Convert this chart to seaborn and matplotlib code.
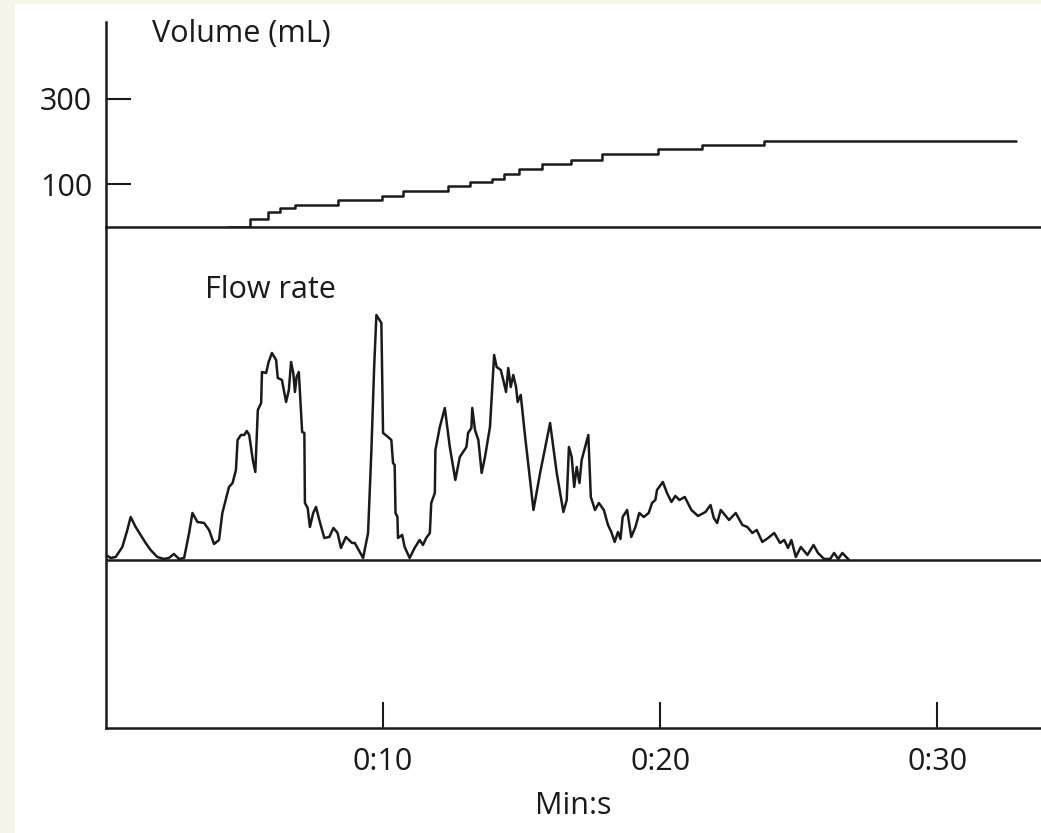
import matplotlib.pyplot as plt
import matplotlib.patches as patches
import seaborn as sns

# volume trace (seconds, mL) - cumulative, drawn as steps
vol_time = [4.4, 5.2, 5.85, 6.28, 6.82, 8.38, 9.96, 10.72, 12.35, 13.14, 13.94,
            14.37, 14.91, 15.74, 16.79, 17.91, 19.93, 21.52, 23.75, 32.85]
vol_ml = [0, 19, 35, 45, 52, 64, 73, 85, 96, 105, 113,
          125, 135, 148, 158, 172, 182, 191, 202, 202]

# flow trace (seconds, mL/s)
flow_time = [0.0, 0.17, 0.35, 0.59, 0.77, 0.89, 1.07, 1.25, 1.43, 1.61, 1.85, 2.09, 2.27, 2.45,
             2.64, 2.82, 3.00, 3.12, 3.30, 3.54, 3.72, 3.90, 4.08, 4.20, 4.32, 4.44, 4.57, 4.69,
             4.75, 4.87, 4.99, 5.08, 5.17, 5.30, 5.39, 5.48, 5.60, 5.63, 5.78, 5.87, 5.99, 6.14,
             6.20, 6.35, 6.50, 6.60, 6.68, 6.76, 6.82, 6.88, 6.96, 7.08, 7.16, 7.18, 7.28, 7.36,
             7.48, 7.58, 7.70, 7.88, 8.06, 8.21, 8.36, 8.48, 8.66, 8.88, 8.98, 9.28, 9.46, 9.58,
             9.68, 9.76, 9.94, 10.00, 10.18, 10.30, 10.36, 10.42, 10.45, 10.52, 10.54, 10.69, 10.78,
             10.96, 11.14, 11.32, 11.44, 11.56, 11.69, 11.74, 11.87, 11.89, 12.05, 12.23, 12.41,
             12.61, 12.77, 13.01, 13.07, 13.19, 13.22, 13.32, 13.44, 13.56, 13.68, 13.86, 14.01,
             14.10, 14.25, 14.34, 14.44, 14.52, 14.61, 14.70, 14.80, 14.86, 14.97, 15.13, 15.43,
             15.67, 16.03, 16.27, 16.51, 16.63, 16.71, 16.81, 16.90, 16.99, 17.09, 17.17, 17.41,
             17.50, 17.65, 17.79, 17.97, 18.12, 18.24, 18.36, 18.48, 18.57, 18.65, 18.81, 18.96,
             19.11, 19.25, 19.41, 19.59, 19.71, 19.83, 19.89, 20.10, 20.25, 20.41, 20.55, 20.70,
             20.89, 21.13, 21.37, 21.64, 21.82, 21.94, 22.06, 22.19, 22.49, 22.73, 22.97, 23.15,
             23.33, 23.49, 23.69, 23.90, 24.12, 24.33, 24.48, 24.62, 24.74, 24.90, 25.08, 25.32,
             25.54, 25.70, 25.92, 26.14, 26.28, 26.43, 26.58, 26.82]
flow_ml_s = [0.5, 0.2, 0.3, 1.3, 3.0, 4.3, 3.3, 2.5, 1.7, 1.0, 0.3, 0.1, 0.2, 0.6,
             0.1, 0.2, 2.7, 4.7, 3.8, 3.7, 3.0, 1.6, 2.0, 4.7, 6.0, 7.3, 7.7, 9.0,
             12.0, 12.5, 12.5, 12.9, 12.5, 10.0, 8.8, 15.0, 15.7, 18.8, 18.7, 19.8, 20.7, 20.0,
             18.2, 18.0, 15.8, 17.0, 19.8, 18.7, 16.8, 18.3, 18.8, 12.8, 12.7, 5.7, 5.2, 3.3,
             4.7, 5.3, 4.0, 2.2, 2.3, 3.2, 2.7, 1.2, 2.3, 1.7, 1.7, 0.2, 2.7, 11.0,
             19.3, 24.5, 23.7, 12.7, 12.3, 12.0, 9.7, 9.5, 4.7, 4.3, 2.2, 2.5, 1.3,
             0.2, 1.2, 2.0, 1.5, 2.2, 2.7, 5.7, 6.7, 11.0, 13.3, 15.2, 11.3,
             8.0, 10.3, 11.3, 12.7, 13.2, 15.2, 13.0, 12.0, 8.7, 10.3, 13.3, 20.5,
             19.3, 19.0, 18.0, 16.8, 19.2, 17.3, 18.5, 17.3, 15.8, 16.5, 12.3, 5.0,
             8.7, 13.7, 8.7, 4.8, 6.0, 11.3, 10.3, 7.3, 9.3, 7.7, 10.0, 12.5,
             6.3, 5.0, 5.7, 5.0, 3.5, 2.8, 1.8, 2.8, 2.1, 4.3, 5.0, 2.3,
             3.3, 4.7, 4.3, 4.7, 5.7, 6.0, 7.0, 7.8, 6.7, 5.8, 6.4, 6.0,
             6.3, 5.0, 4.4, 4.8, 5.5, 4.2, 3.7, 5.0, 4.0, 4.7, 3.5, 3.3,
             2.7, 3.0, 1.8, 2.2, 2.7, 1.7, 2.0, 1.2, 2.0, 0.3, 1.3, 0.5,
             1.5, 0.7, 0.1, 0.1, 0.7, 0.1, 0.7, 0.0]

time_ticks = [10, 20, 30]
time_labels = ['0:10', '0:20', '0:30']
vol_ticks = [100, 300]

sns.set_style('white')
plt.rcParams['font.family'] = ['Open Sans', 'DejaVu Sans']

ink = '#1a1a1a'
fs = 22
fig = plt.figure(figsize=(10.41, 8.33), dpi=100)
fig.patch.set_facecolor('#f6f5ec')
# white page area (beige margin on the left and top)
page = patches.Rectangle((0.0144, 0), 1, 0.995, transform=fig.transFigure,
                         facecolor='white', edgecolor='none', zorder=-10)
fig.add_artist(page)

left, width = 106 / 1041, 935 / 1041
ax_vol = fig.add_axes([left, 0.7275, width, 0.2461])
ax_flow = fig.add_axes([left, 0.1261, width, 0.6014])

for ax in (ax_vol, ax_flow):
    ax.set_zorder(1)
    ax.patch.set_alpha(0)
    ax.set_xlim(0, 33.75)
    sns.despine(ax=ax)
    for s in ('left', 'bottom'):
        ax.spines[s].set_color(ink)
        ax.spines[s].set_linewidth(1.8)

# volume panel
sns.lineplot(x=vol_time, y=vol_ml, ax=ax_vol, color=ink, lw=1.8,
             drawstyle='steps-post', estimator=None, sort=False)
ax_vol.set_ylim(0, 480)
ax_vol.set_xticks([])
ax_vol.set_yticks(vol_ticks)
ax_vol.tick_params(axis='y', left=True, direction='in', length=18, width=1.5, color=ink,
                   pad=10, labelsize=fs, labelcolor=ink)
ax_vol.text(1.66, 453, 'Volume (mL)', fontsize=fs, color=ink, ha='left', va='center')

# flow panel
sns.lineplot(x=flow_time, y=flow_ml_s, ax=ax_flow, color=ink, lw=1.8,
             estimator=None, sort=False)
ax_flow.axhline(0, color=ink, lw=1.8)
ax_flow.set_ylim(-16.8, 33.3)
ax_flow.set_yticks([])
ax_flow.set_xticks(time_ticks)
ax_flow.set_xticklabels(time_labels)
ax_flow.tick_params(axis='x', bottom=True, direction='in', length=19, width=1.5, color=ink,
                    pad=14, labelsize=fs, labelcolor=ink)
ax_flow.set_xlabel('Min:s', fontsize=fs, color=ink, labelpad=10)
ax_flow.text(3.57, 27.0, 'Flow rate', fontsize=fs, color=ink, ha='left', va='center')

fig.savefig('out.png', dpi=100, facecolor=fig.get_facecolor())
